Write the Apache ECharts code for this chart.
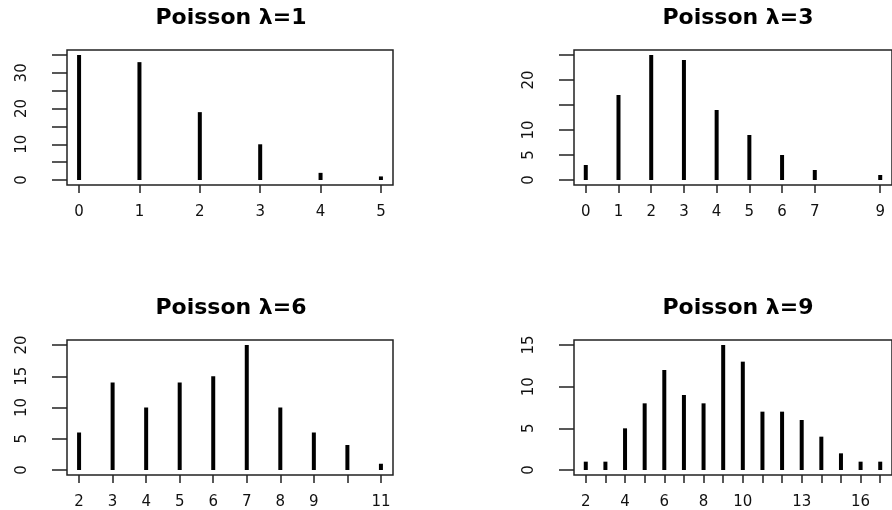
<!DOCTYPE html>
<html><head><meta charset="utf-8">
<script src="https://cdn.jsdelivr.net/npm/echarts@6/dist/echarts.min.js"></script>
<style>html,body{margin:0;padding:0;background:#fff;overflow:hidden}#c{width:892px;height:510px}</style>
</head><body><div id="c"></div>
<script>
// ---- data ----
const titles = ['Poisson λ=1', 'Poisson λ=3', 'Poisson λ=6', 'Poisson λ=9'];

const x1 = [0, 1, 2, 3, 4, 5];
const y1 = [35, 33, 19, 10, 2, 1];
const x2 = [0, 1, 2, 3, 4, 5, 6, 7, 9];
const y2 = [3, 17, 25, 24, 14, 9, 5, 2, 1];
const x3 = [2, 3, 4, 5, 6, 7, 8, 9, 10, 11];
const y3 = [6, 14, 10, 14, 15, 20, 10, 6, 4, 1];
const x4 = [2, 3, 4, 5, 6, 7, 8, 9, 10, 11, 12, 13, 14, 15, 16, 17];
const y4 = [1, 1, 5, 8, 12, 9, 8, 15, 13, 7, 7, 6, 4, 2, 1, 1];

const xLabels1 = [0, 1, 2, 3, 4, 5];
const xLabels2 = [0, 1, 2, 3, 4, 5, 6, 7, 9];
const xLabels3 = [2, 3, 4, 5, 6, 7, 8, 9, 11];
const xLabels4 = [2, 4, 6, 8, 10, 13, 16];

const yTicks1 = [0, 5, 10, 15, 20, 25, 30, 35];
const yLabels1 = [0, 10, 20, 30];
const yTicks2 = [0, 5, 10, 15, 20, 25];
const yLabels2 = [0, 5, 10, 20];
const yTicks3 = [0, 5, 10, 15, 20];
const yLabels3 = [0, 5, 10, 15, 20];
const yTicks4 = [0, 5, 10, 15];
const yLabels4 = [0, 5, 10, 15];

// ---- layout ----
const panels = [
  {x: x1, y: y1, xl: xLabels1, yt: yTicks1, yl: yLabels1, left: 67, top: 50, h: 135},
  {x: x2, y: y2, xl: xLabels2, yt: yTicks2, yl: yLabels2, left: 574, top: 50, h: 135},
  {x: x3, y: y3, xl: xLabels3, yt: yTicks3, yl: yLabels3, left: 67, top: 340, h: 136},
  {x: x4, y: y4, xl: xLabels4, yt: yTicks4, yl: yLabels4, left: 574, top: 340, h: 136}
];
const W = 326;
const ink = '#111';
const font = 'DejaVu Sans';

const option = {
  animation: false,
  backgroundColor: '#fff',
  title: [], grid: [], xAxis: [], yAxis: [], series: []
};

panels.forEach((p, i) => {
  const xmin = Math.min(...p.x), xmax = Math.max(...p.x);
  const xr = xmax - xmin;
  const ymax = Math.max(...p.y);
  option.title.push({
    text: titles[i],
    left: p.left + W / 2 - 4,
    top: p.top - 48,
    textAlign: 'center',
    textStyle: {fontFamily: font, fontWeight: 'bold', fontSize: 22, color: '#000'}
  });
  option.grid.push({
    left: p.left, top: p.top, width: W, height: p.h,
    show: true, borderColor: '#222', borderWidth: 1.5, backgroundColor: 'transparent'
  });
  option.xAxis.push({
    type: 'value', gridIndex: i, position: 'bottom',
    min: xmin - 0.04 * xr, max: xmax + 0.04 * xr,
    axisLine: {show: false, onZero: false},
    splitLine: {show: false},
    axisTick: {show: true, inside: false, customValues: p.x, length: 8, lineStyle: {color: '#222', width: 1.5}},
    axisLabel: {customValues: p.xl, margin: 20, fontFamily: font, fontSize: 15, color: ink}
  });
  option.yAxis.push({
    type: 'value', gridIndex: i, position: 'left',
    min: -0.04 * ymax, max: 1.04 * ymax,
    axisLine: {show: false, onZero: false},
    splitLine: {show: false},
    axisTick: {show: true, inside: false, customValues: p.yt, length: 15, lineStyle: {color: '#222', width: 1.5}},
    axisLabel: {customValues: p.yl, rotate: 90, margin: 37, fontFamily: font, fontSize: 15, color: ink}
  });
  option.series.push({
    type: 'bar', xAxisIndex: i, yAxisIndex: i,
    barWidth: 4,
    itemStyle: {color: '#000'},
    data: p.x.map((v, k) => [v, p.y[k]])
  });
});

const chart = echarts.init(document.getElementById('c'));
chart.setOption(option);
</script>
</body></html>
